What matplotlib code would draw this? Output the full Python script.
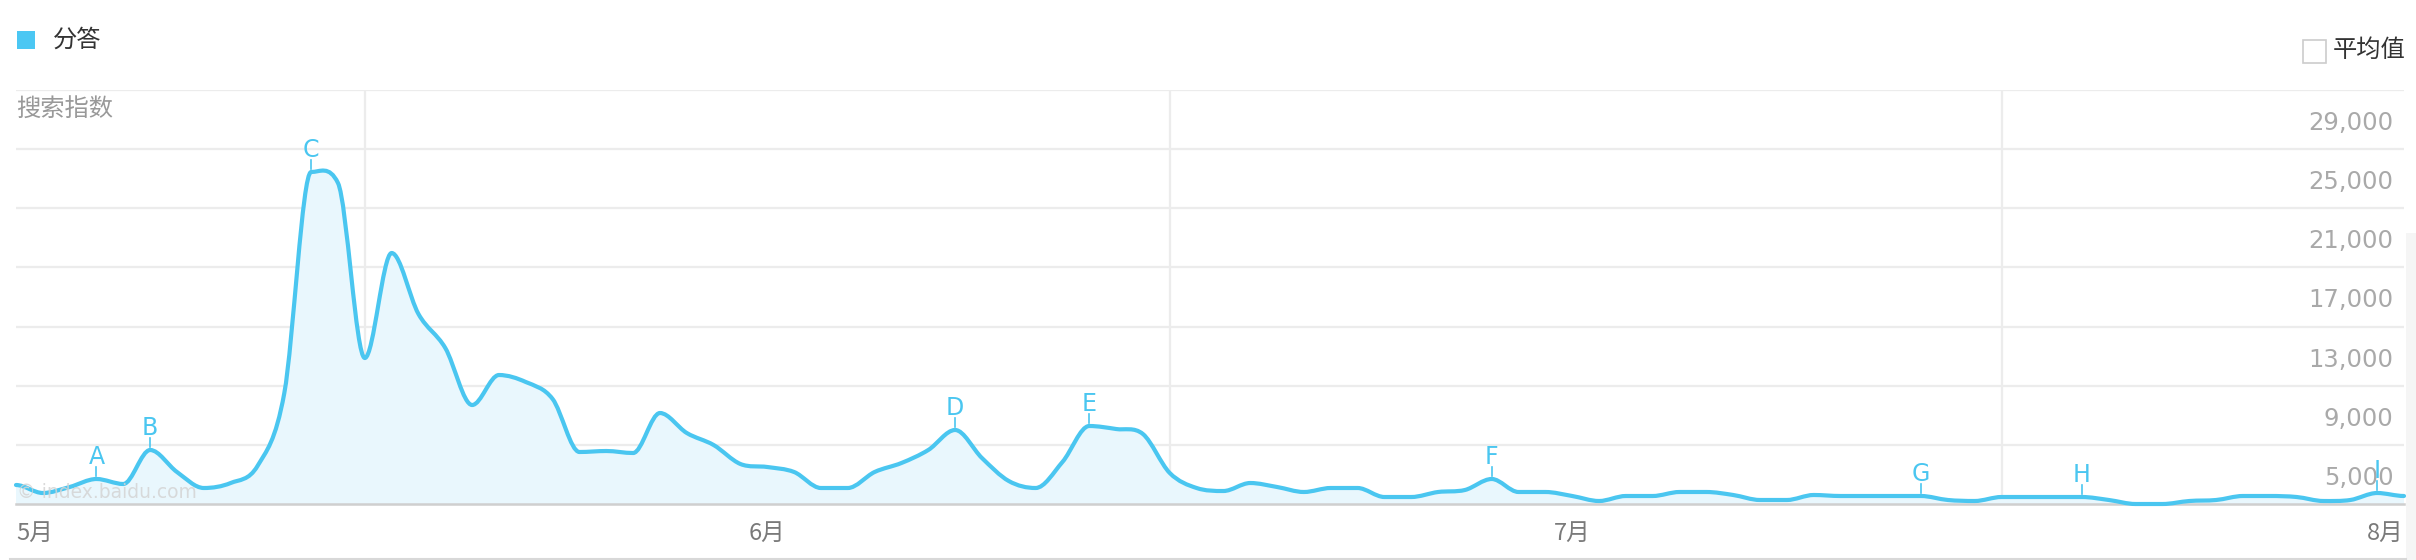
import numpy as np
import matplotlib
matplotlib.use("Agg")
import matplotlib.pyplot as plt
import matplotlib.transforms as mtransforms
from matplotlib.path import Path
from matplotlib.patches import PathPatch, Rectangle

plt.rcParams['font.family'] = ['Noto Sans CJK SC', 'DejaVu Sans']

# 搜索指数 (daily, 90 days ending 8/1)
values = [2285, 1744, 2150, 2691, 2353, 4652, 3164, 2082, 2420, 3570,
          8507, 23454, 22710, 10874, 17975, 13850, 11550, 7695, 9724, 9251,
          8101, 4517, 4584, 4449, 7154, 5802, 4990, 3705, 3502, 3164,
          2082, 2082, 3164, 3773, 4652, 6005, 4111, 2555, 2082, 3840,
          6275, 6072, 5734, 3097, 2082, 1879, 2420, 2150, 1812, 2082,
          2082, 1473, 1473, 1812, 1947, 2691, 1812, 1812, 1541, 1203,
          1541, 1541, 1812, 1812, 1609, 1271, 1271, 1609, 1541, 1541,
          1541, 1541, 1271, 1203, 1473, 1473, 1473, 1473, 1271, 1000,
          1000, 1203, 1271, 1541, 1541, 1473, 1203, 1271, 1744, 1541]

# 事件标注
marker_labels = ['A', 'B', 'C', 'D', 'E', 'F', 'G', 'H', 'I']
marker_days = [3, 5, 11, 35, 40, 55, 71, 77, 88]

y_ticks = [5000, 9000, 13000, 17000, 21000, 25000, 29000]
month_labels = ['5月', '6月', '7月', '8月']
month_days = [0, 28, 58, 89]
vgrid_days = [13, 43, 74]

line_color = '#4ac6f0'
fill_color = '#e9f7fd'

W, H = 2416, 560
fig = plt.figure(figsize=(W / 100, H / 100), dpi=100)
ax = fig.add_axes([16 / W, 56 / H, 2388 / W, 414 / H])
n = len(values)
ax.set_xlim(0, n - 1)
ax.set_ylim(1000, 29000)
ax.axis('off')


def shift(dy_px):
    return ax.transData + mtransforms.ScaledTranslation(0, dy_px / 100, fig.dpi_scale_trans)


# grid
for v in range(1000, 29001, 4000):
    ax.axhline(v, color='#ececec', lw=1.6, zorder=0)
for d in vgrid_days:
    ax.axvline(d, color='#ececec', lw=1.6, zorder=0)

# smooth curve: cubic bezier through the daily points
# catmull-rom slopes, flat at local peaks/troughs, steep slopes tamed so a
# short segment next to a big jump doesn't bulge
x = np.arange(n, dtype=float)
y = np.array(values, dtype=float)
delta = np.diff(y)
m = np.zeros(n)
for i in range(1, n - 1):
    a, b = delta[i - 1], delta[i]
    m[i] = 0 if a * b <= 0 else (a + b) / 2
lim = 5
for i in range(n - 1):
    d = delta[i]
    if d == 0:
        m[i] = m[i + 1] = 0
        continue
    if m[i] / d > lim:
        m[i] = lim * d
    if m[i + 1] / d > lim:
        m[i + 1] = lim * d

verts = [(x[0], y[0])]
codes = [Path.MOVETO]
for i in range(n - 1):
    verts += [(x[i] + 1 / 3, y[i] + m[i] / 3),
              (x[i + 1] - 1 / 3, y[i + 1] - m[i + 1] / 3),
              (x[i + 1], y[i + 1])]
    codes += [Path.CURVE4] * 3

fill_verts = verts + [(n - 1, 1000), (0, 1000), verts[0]]
fill_codes = codes + [Path.LINETO, Path.LINETO, Path.CLOSEPOLY]
ax.add_patch(PathPatch(Path(fill_verts, fill_codes), facecolor=fill_color,
                       edgecolor='none', zorder=1, clip_on=False))
ax.add_patch(PathPatch(Path(verts, codes), facecolor='none', edgecolor=line_color,
                       lw=3, zorder=3, clip_on=False, capstyle='round', joinstyle='round'))

# baseline
ax.axhline(1000, color='#cfcfcf', lw=1.8, zorder=2, clip_on=False)

# markers: small tick above the point, letter above the tick
for lab, d in zip(marker_labels, marker_days):
    v = values[d]
    ax.text(d, v, lab, color=line_color, fontsize=17, family='DejaVu Sans',
            ha='center', va='baseline', zorder=4, transform=shift(15))
    px, py = ax.transData.transform((d, v))
    fig.add_artist(plt.Line2D([px / W, px / W], [(py + 3) / H, (py + 12) / H],
                              color=line_color, lw=1.2, zorder=5))

# y tick labels (right side, just below their grid line)
for v in y_ticks:
    ax.text(88.6, v, f'{v:,}', color='#a9a9a9', fontsize=17.5, family='DejaVu Sans',
            ha='right', va='baseline', transform=shift(-40))

# month labels
for lab, d in zip(month_labels, month_days):
    ha = 'left' if d == 0 else ('right' if d == n - 1 else 'center')
    xd = ax.transData.transform((d, 1000))[0] / W
    if d == n - 1:
        xd = 2404 / W
    fig.text(xd, 1 - 533 / H, lab, color='#7a7a7a', fontsize=17, ha=ha, va='center')

# bottom rule
fig.add_artist(plt.Line2D([10 / W, 2406 / W], [1 - 559 / H, 1 - 559 / H], color='#d8d8d8', lw=1.5))

# faint side panel
fig.add_artist(Rectangle((2406 / W, 0), 10 / W, 1 - 233 / H, transform=fig.transFigure,
                         facecolor='#f5f5f5', edgecolor='none'))

# watermark
fig.text(17 / W, 1 - 492 / H, '© index.baidu.com', color='#d4d4d4', fontsize=13.5,
         ha='left', va='center', family='DejaVu Sans', alpha=0.85)

# legend and headings
fig.add_artist(Rectangle((17 / W, 1 - 49 / H), 18 / W, 18 / H, transform=fig.transFigure,
                         facecolor='#4bc7f3', edgecolor='none'))
fig.text(53 / W, 1 - 40 / H, '分答', color='#333333', fontsize=17.5, ha='left', va='center')
fig.text(16 / W, 1 - 110 / H, '搜索指数', color='#999999', fontsize=17.5, ha='left', va='center')

fig.add_artist(Rectangle((2303 / W, 1 - 63 / H), 23 / W, 23 / H, transform=fig.transFigure,
                         facecolor='white', edgecolor='#cccccc', lw=1.2))
fig.text(2333 / W, 1 - 50 / H, '平均值', color='#333333', fontsize=17.5, ha='left', va='center')

fig.savefig('out.png', dpi=100)
